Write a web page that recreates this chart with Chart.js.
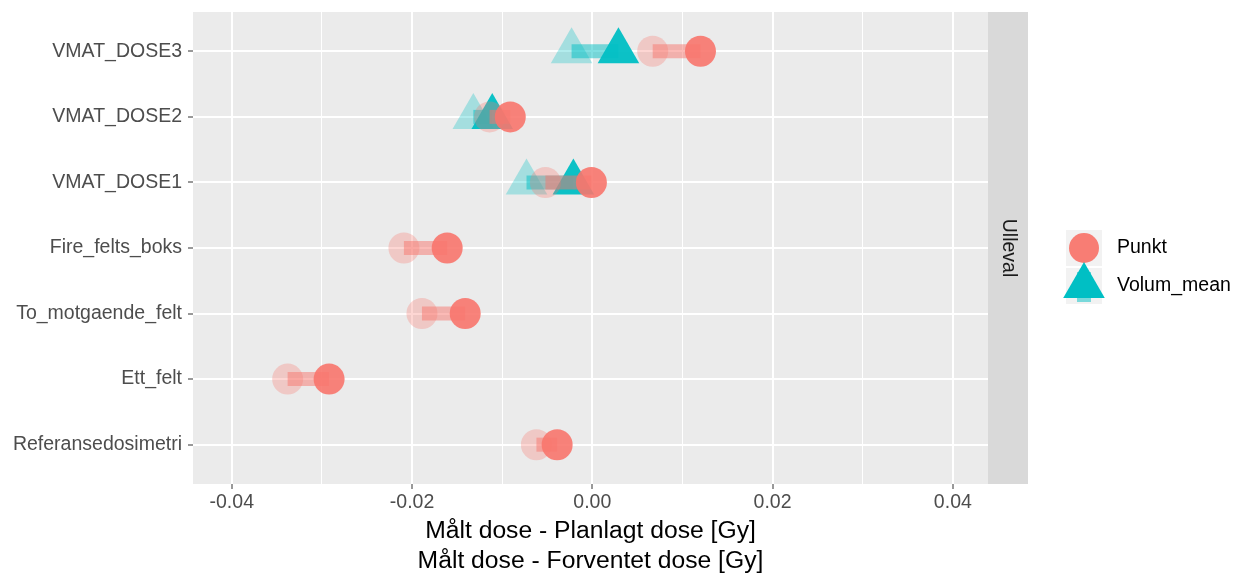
<!DOCTYPE html>
<html>
<head>
<meta charset="utf-8">
<title>Målt dose</title>
<script src="https://cdn.jsdelivr.net/npm/chart.js@4"></script>
<style>
  html, body { margin: 0; padding: 0; background: #fff; }
  #wrap { width: 1245px; height: 574px; position: relative; }
</style>
</head>
<body>
<div id="wrap"><canvas id="chart"></canvas></div>
<script>
// Kategorier fra topp til bunn
const categories = ['VMAT_DOSE3', 'VMAT_DOSE2', 'VMAT_DOSE1', 'Fire_felts_boks',
                    'To_motgaende_felt', 'Ett_felt', 'Referansedosimetri'];

// Punkt: forventet (svak) og planlagt (sterk)
const punktForventet = [0.0067, -0.0114, -0.0052, -0.0209, -0.0189, -0.0338, -0.0062];
const punktPlanlagt  = [0.0120, -0.0091, -0.0001, -0.0161, -0.0141, -0.0292, -0.0039];

// Volum_mean: bare VMAT-feltene
const volumForventet = [-0.0023, -0.0132, -0.0073, null, null, null, null];
const volumPlanlagt  = [ 0.0029, -0.0111, -0.0021, null, null, null, null];

const xTicks = [-0.04, -0.02, 0.00, 0.02, 0.04];
const xTitle = ['Målt dose - Planlagt dose [Gy]', 'Målt dose - Forventet dose [Gy]'];
const stripLabel = 'Ulleval';
const legendLabels = ['Punkt', 'Volum_mean'];

const farge = { rod: '248,118,109', teal: '0,191,196' };
const FONT = '"Liberation Sans", Arial, sans-serif';

function segmenter(fra, til, rgb) {
  const ut = [];
  fra.forEach((v, i) => {
    if (v == null || til[i] == null) return;
    ut.push({
      type: 'line',
      data: [{ x: v, y: i }, { x: til[i], y: i }],
      borderColor: `rgba(${rgb},0.5)`, borderWidth: 14, borderCapStyle: 'butt',
      pointRadius: 0, fill: false
    });
  });
  return ut;
}

function punkter(verdier, rgb, alpha, stil, r) {
  return {
    type: 'scatter',
    data: verdier.map((v, i) => v == null ? null : { x: v, y: i }).filter(p => p),
    pointStyle: stil, pointRadius: r, borderWidth: 0,
    backgroundColor: `rgba(${rgb},${alpha})`
  };
}

// Tegnerekkefolge: forst volum, deretter punkt (Chart.js tegner forste datasett overst)
const datasets = [
  ...segmenter(volumForventet, volumPlanlagt, farge.teal),
  punkter(volumForventet, farge.teal, 0.3, 'triangle', 24),
  punkter(volumPlanlagt, farge.teal, 0.95, 'triangle', 24),
  ...segmenter(punktForventet, punktPlanlagt, farge.rod),
  punkter(punktForventet, farge.rod, 0.3, 'circle', 15.5),
  punkter(punktPlanlagt, farge.rod, 0.9, 'circle', 15.5)
].reverse();

const erMajor = (v) => xTicks.some(t => Math.abs(t - v) < 1e-6);

// Bakgrunn, stripe, legende og aksetittel
const ggPlugin = {
  id: 'gg',
  beforeDraw(chart) {
    const { ctx, chartArea: a } = chart;
    ctx.save();
    ctx.fillStyle = '#EBEBEB';
    ctx.fillRect(a.left, a.top, a.right - a.left, a.bottom - a.top);
    ctx.restore();
  },
  afterDraw(chart) {
    const { ctx, chartArea: a } = chart;
    ctx.save();
    // fasettstripe til hoyre
    ctx.fillStyle = '#D9D9D9';
    ctx.fillRect(a.right, a.top, 40, a.bottom - a.top);
    ctx.translate(a.right + 20, (a.top + a.bottom) / 2);
    ctx.rotate(Math.PI / 2);
    ctx.fillStyle = '#1A1A1A';
    ctx.font = '19.5px ' + FONT;
    ctx.textAlign = 'center';
    ctx.textBaseline = 'middle';
    ctx.fillText(stripLabel, 0, 0);
    ctx.restore();

    // legende
    ctx.save();
    const kx = 1066, ky = [230, 268], ks = 36;
    ctx.fillStyle = '#F2F2F2';
    ky.forEach(y => ctx.fillRect(kx, y, ks, ks));
    const cx = kx + ks / 2;
    ctx.fillStyle = `rgba(${farge.teal},0.5)`;
    ctx.fillRect(cx - 7, ky[1] + 4, 14, ks - 6);
    ctx.fillStyle = `rgba(${farge.rod},0.95)`;
    ctx.beginPath(); ctx.arc(cx, ky[0] + ks / 2, 15, 0, Math.PI * 2); ctx.fill();
    ctx.fillStyle = `rgba(${farge.teal},1)`;
    const ty = ky[1] + 18, R = 24;
    ctx.beginPath();
    ctx.moveTo(cx, ty - R);
    ctx.lineTo(cx + R * Math.sin(Math.PI * 2 / 3), ty + R / 2);
    ctx.lineTo(cx - R * Math.sin(Math.PI * 2 / 3), ty + R / 2);
    ctx.closePath(); ctx.fill();
    ctx.fillStyle = '#000';
    ctx.font = '19.5px ' + FONT;
    ctx.textBaseline = 'middle';
    ctx.fillText(legendLabels[0], 1117, ky[0] + ks / 2);
    ctx.fillText(legendLabels[1], 1117, ky[1] + 18);

    // x-aksetittel, to linjer
    ctx.font = '24.7px ' + FONT;
    ctx.textAlign = 'center';
    ctx.textBaseline = 'alphabetic';
    const mx = (a.left + a.right) / 2;
    ctx.fillText(xTitle[0], mx, 538);
    ctx.fillText(xTitle[1], mx, 568);
    ctx.restore();
  }
};

new Chart(document.getElementById('chart'), {
  type: 'scatter',
  data: { datasets },
  plugins: [ggPlugin],
  options: {
    responsive: true,
    maintainAspectRatio: false,
    animation: false,
    events: [],
    layout: { autoPadding: false, padding: { top: 12, right: 257, left: 0, bottom: 0 } },
    plugins: { legend: { display: false }, tooltip: { enabled: false } },
    scales: {
      x: {
        type: 'linear', min: -0.0443, max: 0.0439,
        afterFit: (s) => { s.height = 90; s.paddingLeft = 0; s.paddingRight = 0; },
        border: { display: false },
        grid: {
          color: '#FFFFFF',
          lineWidth: (c) => erMajor(c.tick.value) ? 2 : 1,
          tickColor: (c) => erMajor(c.tick.value) ? '#333333' : 'rgba(0,0,0,0)',
          tickLength: 5, tickWidth: 1
        },
        ticks: {
          stepSize: 0.01, includeBounds: false, autoSkip: false, maxRotation: 0,
          padding: 2, color: '#4D4D4D', font: { family: FONT, size: 19.5 },
          callback: (v) => erMajor(v) ? (Math.round(v * 100) / 100 + 0).toFixed(2) : ''
        }
      },
      y: {
        type: 'linear', reverse: true, min: -0.6, max: categories.length - 0.4,
        afterFit: (s) => { s.width = 193; s.paddingTop = 0; s.paddingBottom = 0; },
        border: { display: false },
        grid: { color: '#FFFFFF', lineWidth: 2, tickColor: '#333333', tickLength: 5, tickWidth: 1 },
        ticks: {
          stepSize: 1, includeBounds: false, autoSkip: false,
          padding: 6, color: '#4D4D4D', font: { family: FONT, size: 19.5 },
          callback: (v) => Number.isInteger(v) ? categories[v] : ''
        }
      }
    }
  }
});
</script>
</body>
</html>
